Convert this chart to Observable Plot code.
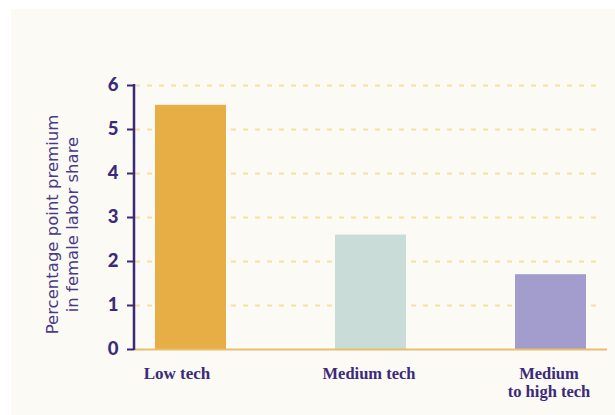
<!DOCTYPE html>
<html>
<head>
<meta charset="utf-8">
<script src="https://cdn.jsdelivr.net/npm/d3@7"></script>
<script src="https://cdn.jsdelivr.net/npm/@observablehq/plot@0.6"></script>
<style>
  html, body { margin: 0; padding: 0; background: #ffffff; }
  #wrap { position: relative; width: 615px; height: 415px; overflow: hidden; }
  #panel { position: absolute; left: 11px; top: 9px; right: 0; bottom: 0; background: #fcfaf5; }
  #chart { position: absolute; left: 0; top: 0; }
</style>
</head>
<body>
<div id="wrap"><div id="panel"></div><div id="chart"></div></div>
<script>
const categories = ["Low tech", "Medium tech", "Medium to high tech"];
const categoryLabels = ["Low tech", "Medium tech", "Medium\nto high tech"];
const values = [5.55, 2.6, 1.7];
const yTicks = [0, 1, 2, 3, 4, 5, 6];
const barColors = ["#e8ae46", "#c9dcd8", "#a29dcc"];
const dotColors = ["#f3cb7c", "#a6bbd9", "#c6c2e7"];
const yLabel = "Percentage point premium\nin female labor share";

const data = categories.map((c, i) => ({category: c, label: categoryLabels[i], value: values[i]}));

const purple = "#3b2a7a";
const plot = Plot.plot({
  width: 615,
  height: 415,
  marginLeft: 134,
  marginRight: 8,
  marginTop: 85,
  marginBottom: 66,
  style: {background: "transparent", color: purple, overflow: "visible"},
  x: {domain: categories, range: [155, 586], paddingInner: 0.606, paddingOuter: 0, axis: null},
  y: {domain: [0, 6], axis: null},
  color: {domain: categories, range: barColors},
  marks: [
    Plot.ruleY(yTicks.filter(d => d > 0), {stroke: "#f6e0a0", strokeWidth: 2, strokeDasharray: "5,7", insetLeft: 1, insetRight: 7}),
    Plot.barY(data, {x: "category", y: "value", fill: "category", ariaLabel: "bars"}),
    Plot.ruleY([0], {stroke: "#e9bd6e", strokeWidth: 2}),
    Plot.axisY({ticks: yTicks, tickSize: 7, tickPadding: 9, strokeWidth: 2, stroke: purple, fill: purple,
      fontSize: 18.5, fontWeight: 900, fontFamily: "Lato", tickFormat: d => String(d), label: null}),
    Plot.text(data.filter((d, i) => i === 0), {x: "category", text: "label", frameAnchor: "bottom", lineAnchor: "top", dy: 17, dx: -14,
      fontFamily: "Liberation Serif", fontWeight: "bold", fontSize: 17, fill: purple}),
    Plot.text(data.filter((d, i) => i > 0), {x: "category", text: "label", frameAnchor: "bottom", lineAnchor: "top", dy: 16, dx: -2,
      fontFamily: "Liberation Serif", fontWeight: "bold", fontSize: 16.5, lineHeight: 1.12, fill: purple}),
    Plot.text([yLabel], {frameAnchor: "left", textAnchor: "middle", rotate: -90, dx: -73, dy: 7, lineHeight: 1.25,
      fontFamily: "DejaVu Sans", fontWeight: 500, fontSize: 16.5, fill: "#4a3a88", ariaLabel: "ylabel"})
  ]
});

// dotted texture patterns built from the bar colours
const svg = d3.select(plot);
const defs = svg.insert("defs", ":first-child");
barColors.forEach((c, i) => {
  const p = defs.append("pattern").attr("id", "dots" + i).attr("patternUnits", "userSpaceOnUse")
    .attr("width", 4.4).attr("height", 4.4);
  p.append("rect").attr("width", 4.4).attr("height", 4.4).attr("fill", c);
  p.append("rect").attr("x", 1.5).attr("y", 1.5).attr("width", 1.3).attr("height", 1.3).attr("fill", dotColors[i]);
});
svg.selectAll("g[aria-label='bars'] rect").each(function() {
  const f = this.getAttribute("fill");
  const i = barColors.indexOf(f);
  if (i >= 0) this.setAttribute("fill", `url(#dots${i})`);
});
svg.selectAll("g[aria-label='ylabel'] text").style("letter-spacing", "1px");

// vertical axis line
const ys = plot.scale("y");
svg.append("line")
  .attr("x1", 134).attr("x2", 134)
  .attr("y1", ys.apply(d3.max(yTicks)) - 1).attr("y2", ys.apply(0) + 1)
  .attr("stroke", purple).attr("stroke-width", 2.5);

document.getElementById("chart").appendChild(plot);
</script>
</body>
</html>
